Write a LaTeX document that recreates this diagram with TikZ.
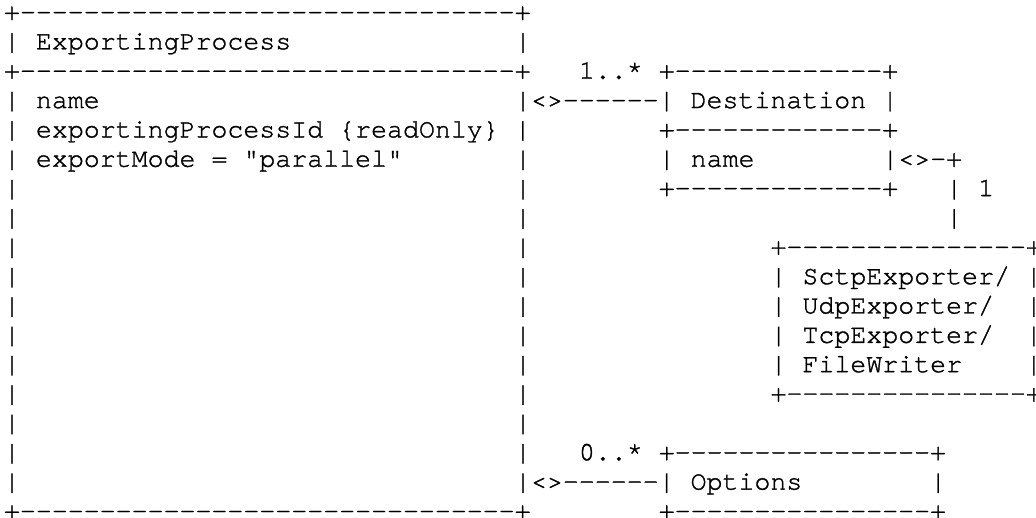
\documentclass[tikz,border=0pt]{standalone}
\usepackage{fontspec}
\newfontfamily\asciifont{texgyrecursor-regular.otf}[Ligatures=TeXOff,FakeBold=1.2]
\frenchspacing
\begin{document}
\begin{tikzpicture}[x=1pt,y=1pt,
  txt/.style={anchor=base west,inner sep=0pt,outer sep=0pt,
    font=\asciifont\fontsize{26.6pt}{30pt}\selectfont}]
\useasboundingbox (0,0) rectangle (1036,518);
\newcommand\seg[4]{\node[txt] (#1) at ({4+#3*15.97},{498-#2*29.35}) {#4};}
% row 0
\seg{r0a}{0}{0}{+-------------------------------+}
% row 1
\seg{r1a}{1}{0}{|~ExportingProcess}
\seg{r1b}{1}{32}{|}
% row 2
\seg{r2a}{2}{0}{+-------------------------------+}
\seg{r2b}{2}{36}{1..*}
\seg{r2c}{2}{41}{+-------------+}
% row 3
\seg{r3a}{3}{0}{|~name}
\seg{r3b}{3}{32}{|<>------|~Destination~|}
% row 4
\seg{r4a}{4}{0}{|~exportingProcessId~\{readOnly\}~|}
\seg{r4b}{4}{41}{+-------------+}
% row 5
\seg{r5a}{5}{0}{|~exportMode~=~"parallel"}
\seg{r5b}{5}{32}{|}
\seg{r5c}{5}{41}{|~name}
\seg{r5d}{5}{55}{|<>-+}
% row 6
\seg{r6a}{6}{0}{|}
\seg{r6b}{6}{32}{|}
\seg{r6c}{6}{41}{+-------------+}
\seg{r6d}{6}{59}{|~1}
% row 7
\seg{r7a}{7}{0}{|}
\seg{r7b}{7}{32}{|}
\seg{r7c}{7}{59}{|}
% row 8
\seg{r8a}{8}{0}{|}
\seg{r8b}{8}{32}{|}
\seg{r8c}{8}{48}{+---------------+}
% rows 9-12
\seg{r9a}{9}{0}{|}
\seg{r9b}{9}{32}{|}
\seg{r9c}{9}{48}{|~SctpExporter/~|}
\seg{r10a}{10}{0}{|}
\seg{r10b}{10}{32}{|}
\seg{r10c}{10}{48}{|~UdpExporter/~~|}
\seg{r11a}{11}{0}{|}
\seg{r11b}{11}{32}{|}
\seg{r11c}{11}{48}{|~TcpExporter/~~|}
\seg{r12a}{12}{0}{|}
\seg{r12b}{12}{32}{|}
\seg{r12c}{12}{48}{|~FileWriter~~~~|}
% row 13
\seg{r13a}{13}{0}{|}
\seg{r13b}{13}{32}{|}
\seg{r13c}{13}{48}{+---------------+}
% row 14
\seg{r14a}{14}{0}{|}
\seg{r14b}{14}{32}{|}
% row 15
\seg{r15a}{15}{0}{|}
\seg{r15b}{15}{32}{|}
\seg{r15c}{15}{36}{0..*}
\seg{r15d}{15}{41}{+----------------+}
% row 16
\seg{r16a}{16}{0}{|}
\seg{r16b}{16}{32}{|<>------|~Options}
\seg{r16c}{16}{58}{|}
% row 17
\seg{r17a}{17}{0}{+-------------------------------+}
\seg{r17b}{17}{41}{+----------------+}
\end{tikzpicture}
\end{document}
